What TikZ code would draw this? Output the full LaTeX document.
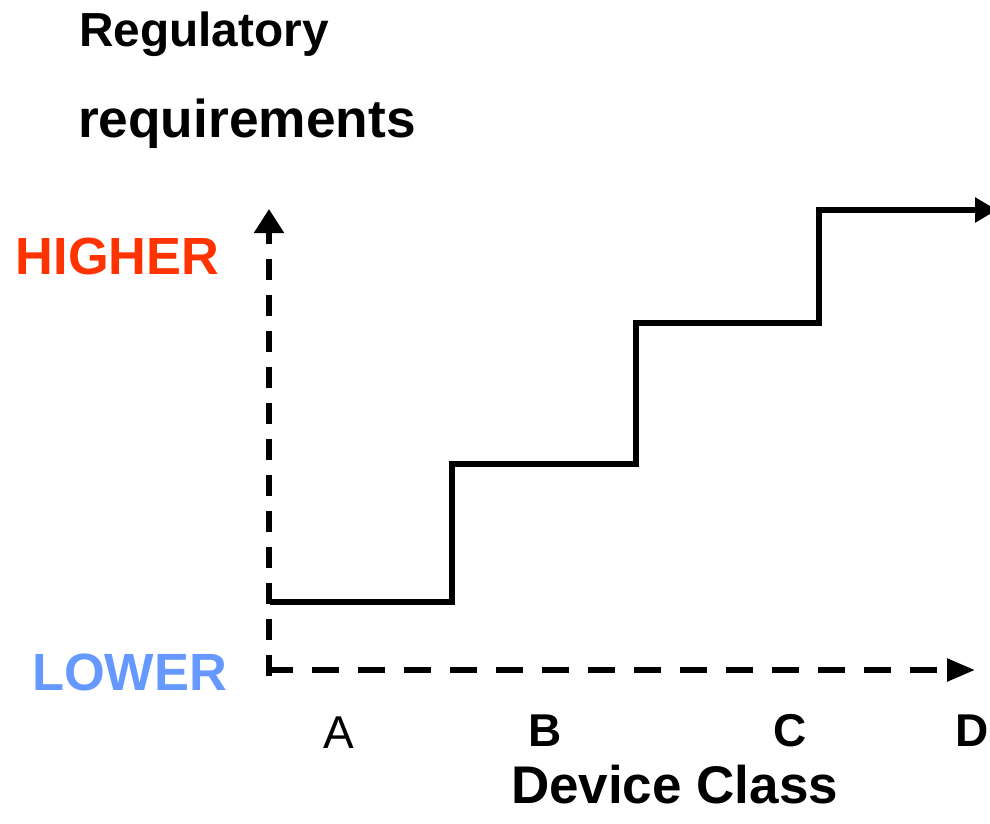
\documentclass[tikz,border=0pt]{standalone}
\usepackage{fontspec}
\setmainfont{Liberation Sans}
\usetikzlibrary{arrows.meta}
\definecolor{hicol}{HTML}{FF3300}
\definecolor{locol}{HTML}{6699FF}
\tikzset{
  lbl/.style={inner sep=0pt, outer sep=0pt, anchor=base west, font=\bfseries},
  clbl/.style={inner sep=0pt, outer sep=0pt, anchor=base},
  axisv/.style={line width=5.5pt, dash pattern=on 21pt off 15pt, -{Triangle[length=24pt,width=29pt]}},
  axish/.style={line width=5.5pt, dash pattern=on 27pt off 19pt, -{Triangle[length=28pt,width=22pt]}},
  stepline/.style={line width=5.5pt, line join=miter, -{Triangle[length=22pt,width=24pt]}}
}
\begin{document}
\begin{tikzpicture}[x=1pt,y=-1pt]
\useasboundingbox (0,0) rectangle (990,823);
\clip (0,0) rectangle (990,823);
% titles
\node[lbl, font=\bfseries\fontsize{47.8}{47.8}\selectfont] (reg) at (79,46) {Regulatory};
\node[lbl, font=\bfseries\fontsize{53.3}{53.3}\selectfont] (req) at (78,137) {requirements};
\node[lbl, font=\bfseries\fontsize{52.3}{52.3}\selectfont, text=hicol] (hi) at (16,274) {HIGHER};
\node[lbl, font=\bfseries\fontsize{52.4}{52.4}\selectfont, text=locol] (lo) at (32,690) {LOWER};
% class labels
\node[clbl, font=\fontsize{46}{46}\selectfont] (la) at (339,748) {A};
\node[clbl, font=\bfseries\fontsize{46}{46}\selectfont] (lb) at (545,746) {B};
\node[clbl, font=\bfseries\fontsize{46}{46}\selectfont] (lc) at (790,746) {C};
\node[lbl, font=\bfseries\fontsize{46}{46}\selectfont] (ld) at (955,746) {D};
\node[lbl, font=\bfseries\fontsize{53}{53}\selectfont] (dc) at (511,803) {Device Class};
% axes
\coordinate (o) at (269,676);
\coordinate (vt) at (269,209);
\coordinate (oh) at (266,670);
\coordinate (ht) at (975,670);
\draw[axisv] (o) -- (vt);
\draw[axish] (oh) -- (ht);
% step line
\coordinate (s0) at (270,602);
\coordinate (s1) at (452,602);
\coordinate (s2) at (452,464);
\coordinate (s3) at (636,464);
\coordinate (s4) at (636,323);
\coordinate (s5) at (819,323);
\coordinate (s6) at (819,210);
\coordinate (s7) at (997,210);
\draw[stepline] (s0) -- (s1) -- (s2) -- (s3) -- (s4) -- (s5) -- (s6) -- (s7);
\end{tikzpicture}
\end{document}
